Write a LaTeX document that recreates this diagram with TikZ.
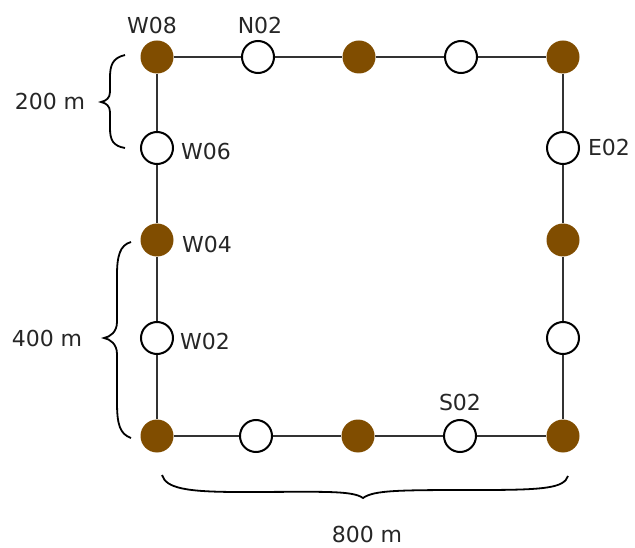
\documentclass[tikz,border=0pt]{standalone}
\usepackage{fontspec}
\setmainfont{DejaVu Sans}
\definecolor{wellbrown}{RGB}{128,77,0}
\definecolor{edgegray}{RGB}{50,50,50}
\tikzset{
  filledwell/.style={circle, fill=wellbrown, minimum size=33pt, inner sep=0pt},
  openwell/.style={circle, draw=black, fill=white, line width=2pt, minimum size=32pt, inner sep=0pt},
  edge/.style={draw=edgegray, line width=2.2pt},
  lbl/.style={font=\fontsize{22}{24}\selectfont, text=black!85, inner sep=0pt},
  bracepath/.style={draw=black, line width=1.8pt}
}
\begin{document}
\begin{tikzpicture}[x=1pt,y=-1pt]
\useasboundingbox (0,0) rectangle (635,548);
% nodes
\node[filledwell] (w08) at (157,57) {};
\node[openwell]   (n02) at (258,57) {};
\node[filledwell] (n04) at (359,57) {};
\node[openwell]   (n06) at (461,57) {};
\node[filledwell] (ne)  at (563,57) {};
\node[openwell]   (w06) at (157,148) {};
\node[filledwell] (w04) at (157,240) {};
\node[openwell]   (w02) at (157,338) {};
\node[filledwell] (sw)  at (157,436) {};
\node[openwell]   (s06) at (256,436) {};
\node[filledwell] (s04) at (358,436) {};
\node[openwell]   (s02) at (460,436) {};
\node[filledwell] (se)  at (563,436) {};
\node[openwell]   (e02) at (563,148) {};
\node[filledwell] (e04) at (563,240) {};
\node[openwell]   (e06) at (563,338) {};
% edges
\path[edge] (w08) -- (n02) -- (n04) -- (n06) -- (ne);
\path[edge] (ne) -- (e02) -- (e04) -- (e06) -- (se);
\path[edge] (w08) -- (w06) -- (w04) -- (w02) -- (sw);
\path[edge] (sw) -- (s06) -- (s04) -- (s02) -- (se);
% labels
\node[lbl] (tw08) at (152,25) {W08};
\node[lbl] (tn02) at (260,25) {N02};
\node[lbl] (tw06) at (206,151) {W06};
\node[lbl] (tw04) at (207,244) {W04};
\node[lbl] (tw02) at (205,341) {W02};
\node[lbl] (te02) at (609,147) {E02};
\node[lbl] (ts02) at (460,402) {S02};
\node[lbl] (t200) at (50,101) {200 m};
\node[lbl] (t400) at (47,338) {400 m};
\node[lbl] (t800) at (367,534) {800 m};
% braces
\path[bracepath] (125,55) .. controls (112,58) and (110,66) .. (110,78)
  -- (110,92) .. controls (110,98) and (106,101) .. (101,102)
  .. controls (106,103) and (110,106) .. (110,112)
  -- (110,128) .. controls (110,140) and (113,146) .. (125,148);
\path[bracepath] (131,242) .. controls (120,245) and (117,256) .. (117,275)
  -- (117,322) .. controls (117,332) and (110,337) .. (104,338)
  .. controls (110,339) and (117,344) .. (117,354)
  -- (117,402) .. controls (117,425) and (120,434) .. (131,438);
\path[bracepath] (162,475) .. controls (166,488) and (185,492) .. (240,492)
  .. controls (320,492) and (352,490) .. (363,498)
  .. controls (374,490) and (400,490) .. (480,490)
  .. controls (545,490) and (564,488) .. (568,476);
\end{tikzpicture}
\end{document}
